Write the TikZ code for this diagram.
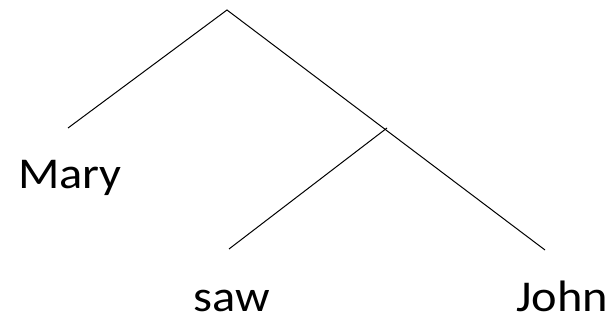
\documentclass[tikz,border=0pt]{standalone}
\usepackage{fontspec}
\setmainfont{Carlito}
\begin{document}
\begin{tikzpicture}[x=1pt,y=-1pt,
  branch/.style={draw=black,line width=1pt},
  word/.style={inner sep=0pt,xscale=1.1,font=\fontsize{44}{48}\selectfont}]
\useasboundingbox (0,0) rectangle (608,321);
\coordinate (root) at (227,10);
\coordinate (maryend) at (68,128);
\coordinate (mid) at (387,128);
\coordinate (sawend) at (229,249);
\coordinate (johnend) at (545,250);
\draw[branch] (maryend) -- (root) -- (johnend);
\draw[branch] (mid) -- (sawend);
\node[word,anchor=base west] (mary) at (18,188) {Mary};
\node[word,anchor=base west] (saw) at (193,311) {saw};
\node[word,anchor=base west] (john) at (516,311) {John};
\end{tikzpicture}
\end{document}
